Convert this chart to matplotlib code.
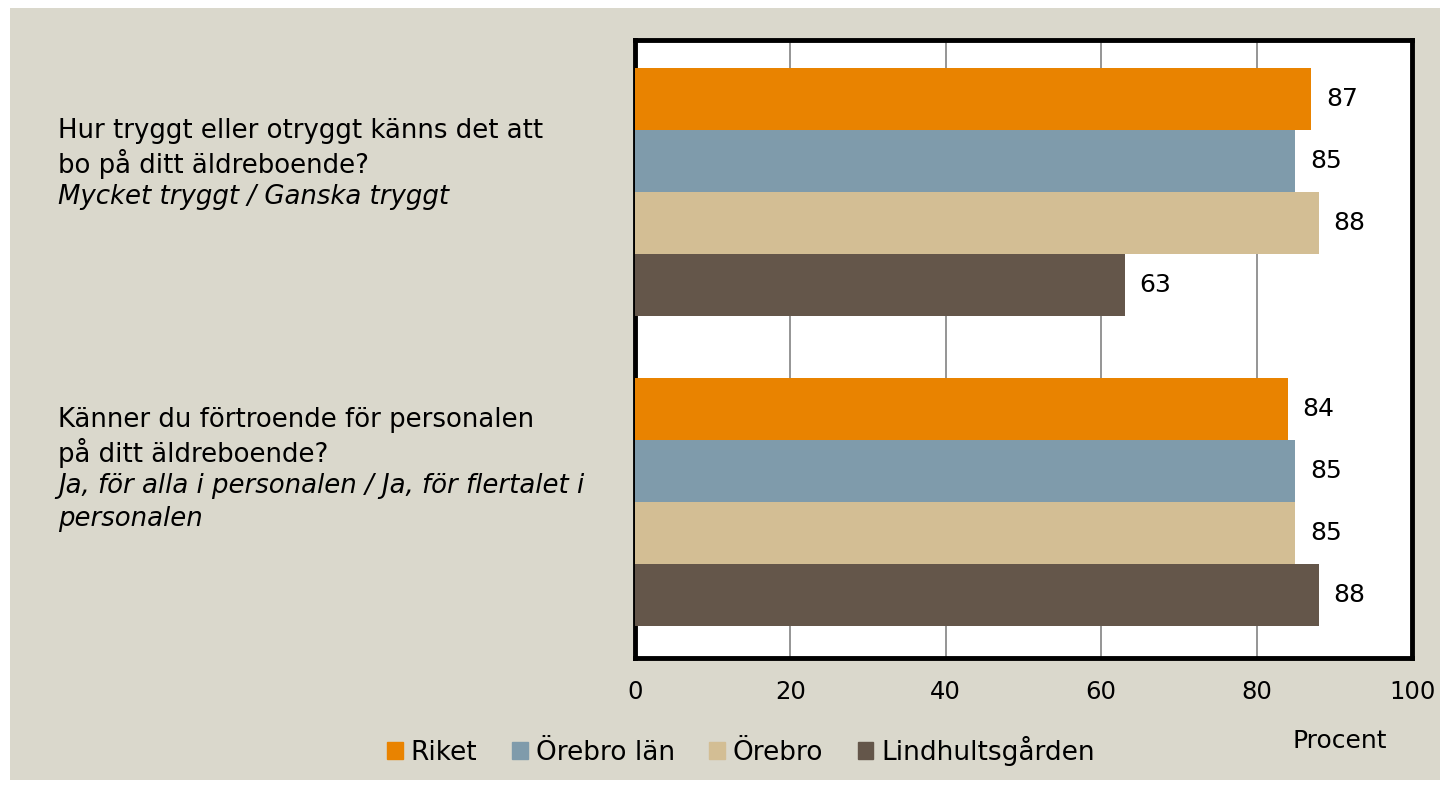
import matplotlib.pyplot as plt
import matplotlib.patches as mpatches
import numpy as np

# data
series = ["Riket", "Örebro län", "Örebro", "Lindhultsgården"]
colors = ["#E98300", "#7F9BAB", "#D3BE94", "#64564A"]
q1_values = [87, 85, 88, 63]
q2_values = [84, 85, 85, 88]
xticks = [0, 20, 40, 60, 80, 100]

q1_lines = ["Hur tryggt eller otryggt känns det att", "bo på ditt äldreboende?"]
q1_italic = ["Mycket tryggt / Ganska tryggt"]
q2_lines = ["Känner du förtroende för personalen", "på ditt äldreboende?"]
q2_italic = ["Ja, för alla i personalen / Ja, för flertalet i", "personalen"]

bg = "#DAD8CC"
plt.rcParams['font.family'] = ['DejaVu Sans']

fig = plt.figure(figsize=(14.48, 7.88), dpi=100)
fig.patch.set_facecolor("white")
fig.patches.append(mpatches.Rectangle((10 / 1448, 1 - 780 / 788), 1430 / 1448, 772 / 788,
                                      transform=fig.transFigure, facecolor=bg, edgecolor="none", zorder=-10))

ax = fig.add_axes([635 / 1448, 1 - 658 / 788, 777 / 1448, 618 / 788])
ax.set_facecolor("white")

h = 0.2
groups = [q1_values, q2_values]
for g, vals in enumerate(groups):
    for i, v in enumerate(vals):
        y = g - 0.3 + i * h
        ax.barh(y, v, height=h, color=colors[i], zorder=3)
        ax.text(v + 1.9, y, str(v), va="center", ha="left", fontsize=18, zorder=4)

ax.set_xlim(0, 100)
ax.set_ylim(1.503, -0.490)
ax.set_yticks([])
ax.set_xticks(xticks)
ax.set_xticklabels([str(t) for t in xticks], fontsize=17.5)
ax.tick_params(axis="x", length=0, pad=16)
ax.grid(axis="x", color="#8C8C8C", linewidth=1.3, zorder=1)
for s in ax.spines.values():
    s.set_linewidth(3.5)
    s.set_color("black")

# question labels
x0 = 58 / 1448
for lines, italic, ytop in [(q1_lines, q1_italic, 131), (q2_lines, q2_italic, 420)]:
    y = ytop
    for ln in lines:
        fig.text(x0, 1 - y / 788, ln, fontsize=18.7, va="center", ha="left")
        y += 33
    for ln in italic:
        fig.text(x0, 1 - y / 788, ln, fontsize=18.7, va="center", ha="left", style="italic")
        y += 33

fig.text(1340 / 1448, 1 - 741 / 788, "Procent", fontsize=18, ha="center", va="center")

handles = [mpatches.Patch(color=c, label=s) for c, s in zip(colors, series)]
leg = fig.legend(handles=handles, loc="center", bbox_to_anchor=(741 / 1448, 1 - 751 / 788), ncol=4,
                 frameon=False, fontsize=19, handlelength=0.6, handleheight=0.6,
                 handletextpad=0.3, columnspacing=1.3)

fig.savefig("out.png", dpi=100)
